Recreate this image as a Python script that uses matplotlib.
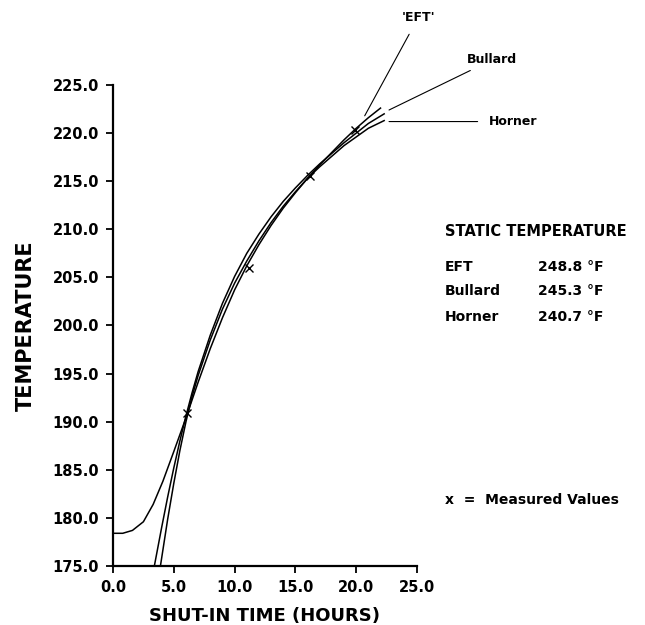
import matplotlib
matplotlib.use("Agg")
import matplotlib.pyplot as plt
from matplotlib.ticker import FormatStrFormatter

plt.rcParams['font.family'] = 'DejaVu Sans'
plt.rcParams['font.weight'] = 'bold'

# shut-in time (hours) and temperature for each extrapolation method
eft_t = [0.0, 0.8, 1.6, 2.5, 3.3, 4.1, 5.0, 6.0, 7.0, 8.0, 9.0, 10.0, 11.0,
         12.0, 13.0, 14.0, 15.0, 16.0, 17.0, 18.0, 19.0, 20.0, 21.0, 22.0]
eft_temp = [178.4, 178.4, 178.7, 179.6, 181.4, 183.8, 186.9, 190.4, 194.1,
            197.6, 200.8, 203.7, 206.2, 208.4, 210.4, 212.2, 213.8, 215.3,
            216.7, 218.0, 219.3, 220.5, 221.6, 222.6]

bullard_t = [3.4, 4.0, 4.5, 5.0, 5.5, 6.0, 6.5, 7.0, 8.0, 9.0, 10.0, 11.0,
             12.0, 13.0, 14.0, 15.0, 16.0, 17.0, 18.0, 19.0, 20.0, 21.0, 22.3]
bullard_temp = [175.0, 179.0, 182.2, 185.2, 188.0, 190.6, 193.0, 195.2, 199.0,
                202.3, 205.1, 207.5, 209.5, 211.3, 212.9, 214.3, 215.6, 216.8,
                217.9, 219.0, 220.0, 221.0, 222.0]

horner_t = [3.9, 4.5, 5.0, 5.5, 6.0, 6.5, 7.0, 8.0, 9.0, 10.0, 11.0, 12.0,
            13.0, 14.0, 15.0, 16.0, 17.0, 18.0, 19.0, 20.0, 21.0, 22.3]
horner_temp = [175.0, 179.9, 183.6, 187.0, 190.0, 192.6, 194.8, 198.5, 201.7,
               204.4, 206.7, 208.8, 210.7, 212.4, 213.9, 215.3, 216.5, 217.6,
               218.7, 219.6, 220.5, 221.3]

# measured values
meas_t = [6.1, 11.2, 16.2, 19.9]
meas_temp = [190.9, 206.0, 215.5, 220.3]

methods = ['EFT', 'Bullard', 'Horner']
static_temp = [248.8, 245.3, 240.7]

fig = plt.figure(figsize=(6.45, 6.25), dpi=100)
ax = fig.add_axes([0.1752, 0.0944, 0.4713, 0.7696])

for t, temp in [(eft_t, eft_temp), (bullard_t, bullard_temp), (horner_t, horner_temp)]:
    ax.plot(t, temp, color='black', lw=1.1)

ax.plot(meas_t, meas_temp, linestyle='none', marker='x', markersize=6,
        markeredgewidth=1.0, color='black')

ax.set_xlim(0, 25)
ax.set_ylim(175, 225)
ax.set_xticks([0, 5, 10, 15, 20, 25])
ax.set_yticks([175, 180, 185, 190, 195, 200, 205, 210, 215, 220, 225])
ax.xaxis.set_major_formatter(FormatStrFormatter('%.1f'))
ax.yaxis.set_major_formatter(FormatStrFormatter('%.1f'))
ax.tick_params(axis='both', direction='out', length=5, width=1.3, labelsize=10.5)
ax.tick_params(axis='y', pad=5)
ax.tick_params(axis='x', pad=5)
for lab in ax.get_xticklabels() + ax.get_yticklabels():
    lab.set_fontweight('bold')

ax.spines['top'].set_visible(False)
ax.spines['right'].set_visible(False)
ax.spines['left'].set_linewidth(1.6)
ax.spines['bottom'].set_linewidth(1.6)

ax.set_ylabel('TEMPERATURE', fontsize=15, fontweight='bold', labelpad=12)
ax.set_xlabel('SHUT-IN TIME (HOURS)', fontsize=13, fontweight='bold', labelpad=9)

# curve labels with leader lines
ax.annotate("'EFT'", xy=(20.7, 221.8), xytext=(25.1, 232.0), fontsize=9,
            fontweight='bold', ha='center', va='center', annotation_clip=False,
            arrowprops=dict(arrowstyle='-', lw=0.8, color='black',
                            shrinkA=6, shrinkB=0))
ax.annotate('Bullard', xy=(22.7, 222.4), xytext=(29.1, 227.6), fontsize=9,
            fontweight='bold', ha='left', va='center', annotation_clip=False,
            arrowprops=dict(arrowstyle='-', lw=0.8, color='black',
                            shrinkA=2, shrinkB=0))
ax.annotate('Horner', xy=(22.7, 221.2), xytext=(30.9, 221.2), fontsize=9,
            fontweight='bold', ha='left', va='center', annotation_clip=False,
            arrowprops=dict(arrowstyle='-', lw=0.8, color='black',
                            shrinkA=6, shrinkB=0))

# static temperature table
fig.text(0.690, 0.629, 'STATIC TEMPERATURE', fontsize=10.5, fontweight='bold',
         va='center', ha='left')
row_y = [0.5728, 0.5344, 0.4928]
for name, val, y in zip(methods, static_temp, row_y):
    fig.text(0.690, y, name, fontsize=10, fontweight='bold', va='center', ha='left')
    fig.text(0.834, y, f'{val:.1f} \u00b0F', fontsize=10, fontweight='bold',
             va='center', ha='left')

fig.text(0.690, 0.200, 'x  =  Measured Values', fontsize=10, fontweight='bold',
         va='center', ha='left')

fig.savefig('out.png', dpi=100)
